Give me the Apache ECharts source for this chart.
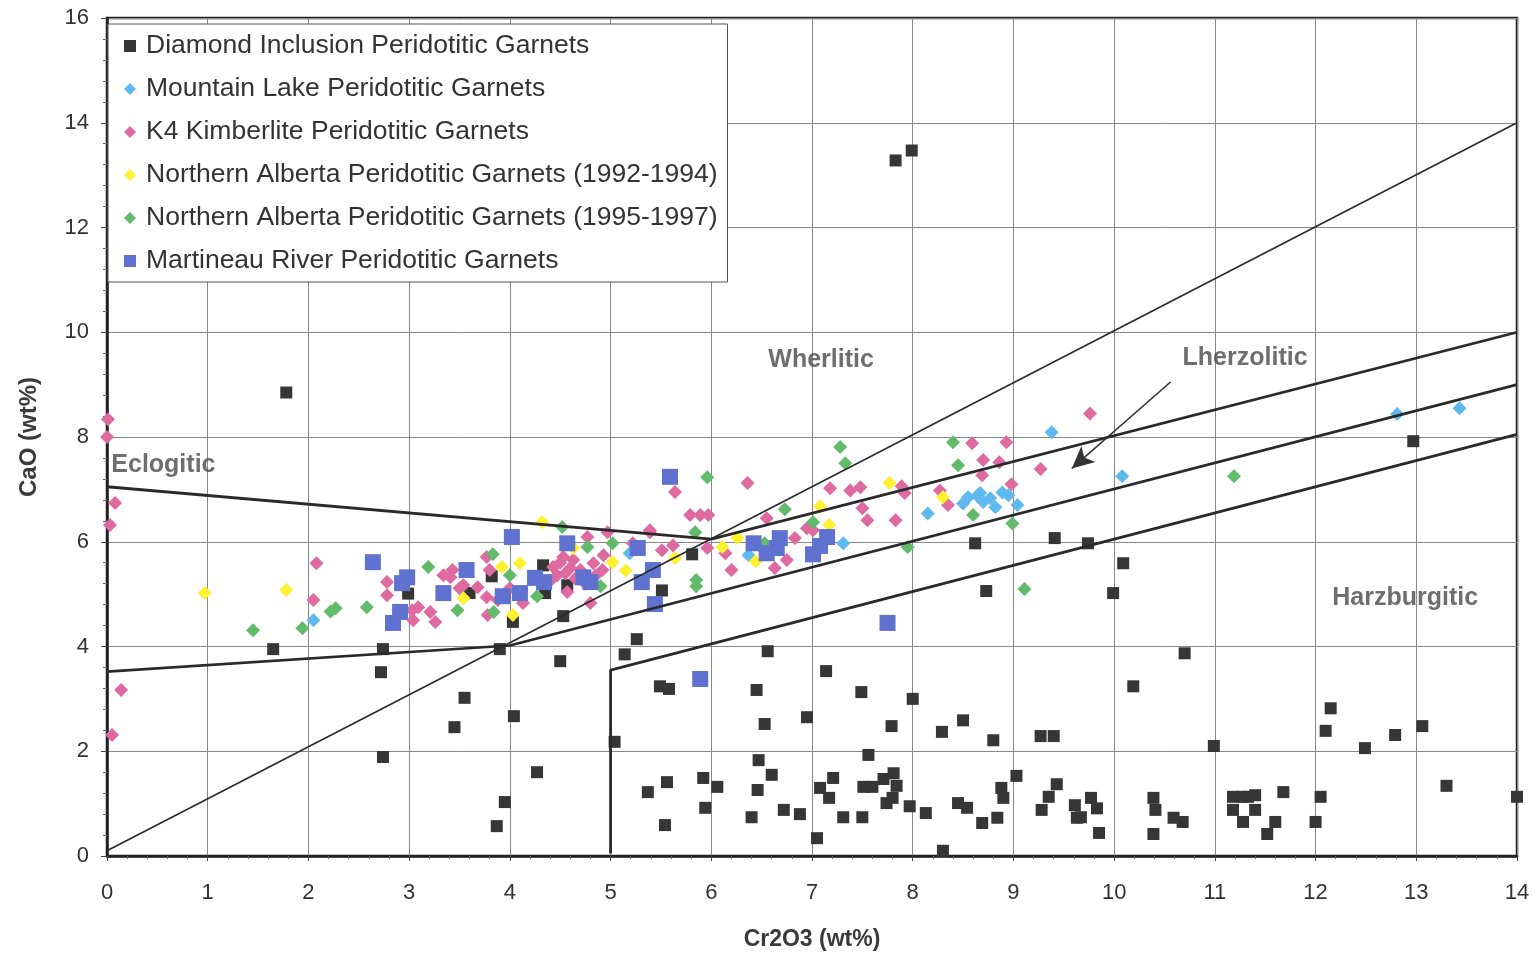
<!DOCTYPE html>
<html>
<head>
<meta charset="utf-8">
<script src="https://cdn.jsdelivr.net/npm/echarts@6/dist/echarts.min.js"></script>
<style>
html,body{margin:0;padding:0;background:#fff;}
#chart{width:1536px;height:958px;}
</style>
</head>
<body>
<div id="chart"></div>
<script>
// ---------- data ----------
const seriesNames = [
  'Diamond Inclusion Peridotitic Garnets',
  'Mountain Lake Peridotitic Garnets',
  'K4 Kimberlite Peridotitic Garnets',
  'Northern Alberta Peridotitic Garnets (1992-1994)',
  'Northern Alberta Peridotitic Garnets (1995-1997)',
  'Martineau River Peridotitic Garnets'
];

const diamondInclusion = [
  [7.83,13.28],[7.99,13.47],[1.78,8.85],[12.97,7.92],[8.62,5.97],[9.41,6.07],[9.74,5.97],[8.73,5.06],[9.99,5.02],[10.09,5.59],
  [10.70,3.87],[10.19,3.24],[5.81,5.76],[5.51,5.07],[5.26,4.14],[5.14,3.85],[4.53,4.58],[4.50,3.72],[3.90,3.95],[2.99,5.01],
  [1.65,3.95],[2.74,3.95],[2.72,3.51],[3.55,3.02],[3.45,2.46],[2.74,1.89],[4.04,2.67],[3.95,1.03],[3.87,0.57],[4.27,1.60],
  [5.04,2.18],[4.33,5.55],[4.57,5.17],[4.35,5.02],[3.60,5.02],[3.82,5.34],[4.03,4.47],
  [5.49,3.24],[5.58,3.19],[6.56,3.91],[7.14,3.53],[6.45,3.17],[7.49,3.13],[8.00,3.00],[6.53,2.52],[6.95,2.65],[7.79,2.48],
  [8.29,2.37],[8.50,2.59],[8.80,2.21],[9.27,2.29],[9.40,2.29],[7.56,1.93],[6.47,1.83],[6.60,1.55],[5.56,1.41],[5.37,1.22],
  [5.92,1.49],[6.06,1.32],[5.94,0.92],[5.54,0.59],[6.46,1.26],[6.40,0.74],[6.72,0.88],[6.88,0.80],[7.08,1.30],[7.21,1.49],
  [7.17,1.11],[7.05,0.34],[7.31,0.74],[7.50,0.74],[7.51,1.32],[7.60,1.32],[7.71,1.47],[7.81,1.58],[7.84,1.34],[7.80,1.11],
  [7.74,1.01],[7.97,0.95],[8.13,0.82],[8.30,0.10],[8.45,1.01],[8.54,0.92],[8.69,0.63],[8.84,0.73],[8.88,1.30],[8.90,1.11],
  [9.03,1.53],[9.28,0.88],[9.35,1.13],[9.43,1.37],[9.61,0.97],[9.63,0.73],
  [10.99,2.10],[12.15,2.82],[12.10,2.39],[12.49,2.06],[12.79,2.31],[13.06,2.48],[13.30,1.34],[14.00,1.13],[12.05,1.13],[12.00,0.65],
  [11.68,1.22],[11.60,0.65],[11.52,0.42],[11.28,0.65],[11.18,1.13],[11.18,0.88],[11.27,1.13],[11.33,1.13],[11.40,1.16],[11.40,0.88],
  [9.67,0.74],[9.77,1.11],[9.83,0.91],[9.85,0.44],[10.39,1.11],[10.41,0.88],[10.39,0.42],[10.59,0.73],[10.68,0.65]
];

const mountainLake = [
  [13.43,8.55],[12.81,8.44],[9.38,8.09],[10.08,7.25],[7.31,5.97],[6.37,5.74],[8.15,6.54],[8.50,6.73],[8.55,6.85],[8.64,6.88],
  [8.67,6.93],[8.70,6.76],[8.77,6.83],[8.82,6.66],[8.89,6.94],[8.95,6.89],[9.04,6.70],[2.05,4.50],[5.19,5.78]
];

const k4Kimberlite = [
  [0.01,8.34],[0.00,8.00],[0.08,6.74],[0.03,6.32],[0.14,3.17],[0.05,2.31],
  [2.08,5.59],[2.05,4.89],[2.78,5.23],[2.78,4.98],[3.03,4.69],[3.09,4.75],[3.21,4.66],[3.26,4.47],[3.04,4.50],[3.34,5.36],
  [3.43,5.46],[3.41,5.32],[3.54,5.17],[3.50,5.11],[3.68,5.13],[3.77,4.94],[3.80,5.46],[3.78,4.60],[4.00,5.11],[3.77,5.71],
  [3.88,4.89],[4.13,4.83],[4.43,5.52],[4.53,5.71],[4.63,5.65],[4.70,5.46],[4.83,5.59],[4.92,5.46],[4.93,5.74],[4.80,4.83],
  [4.97,6.18],[5.22,5.97],[5.39,6.22],[5.51,5.84],[4.77,6.09],[4.57,5.04],[4.47,5.36],[4.40,5.25],[4.55,5.40],[4.65,5.30],
  [4.75,5.20],[4.85,5.35],[4.50,5.60],[4.60,5.50],
  [5.64,6.95],[5.79,6.51],[5.89,6.51],[5.97,6.51],[6.36,7.12],[5.96,5.88],[6.14,5.78],[6.20,5.46],[6.55,6.45],[6.75,5.65],
  [6.63,5.50],[7.01,6.22],[7.18,7.02],[7.38,6.98],[7.48,7.04],[7.50,6.64],[7.55,6.41],[6.95,6.26],[6.83,6.07],[5.62,5.93],
  [5.39,6.18],
  [9.76,8.45],[8.59,7.88],[8.93,7.90],[8.70,7.56],[8.86,7.52],[8.69,7.27],[9.27,7.39],[8.98,7.10],[7.89,7.06],[7.92,6.93],
  [8.27,6.98],[8.35,6.70],[7.83,6.41]
];

const nAlberta9294 = [
  [0.97,5.02],[1.78,5.08],[3.54,4.92],[3.92,5.52],[4.03,4.60],[4.10,5.59],[4.32,6.37],[4.63,5.88],[5.02,5.61],[5.15,5.45],
  [5.64,5.69],[6.11,5.90],[6.26,6.07],[6.44,5.63],[7.08,6.68],[7.17,6.32],[7.77,7.12],[8.30,6.85]
];

const nAlberta9597 = [
  [1.45,4.31],[1.94,4.35],[2.22,4.67],[2.27,4.73],[2.58,4.75],[3.19,5.52],[3.48,4.69],[3.83,5.76],[3.84,4.66],[4.00,5.36],
  [4.27,4.96],[4.52,6.28],[4.77,5.90],[5.02,5.97],[4.90,5.15],[5.84,6.18],[5.85,5.27],[5.85,5.15],[5.96,7.23],[6.53,5.97],
  [6.73,6.62],[7.01,6.37],[7.28,7.81],[7.33,7.50],[7.95,5.90],[8.40,7.90],[8.45,7.46],[8.60,6.51],[8.99,6.35],[9.11,5.10],
  [11.19,7.25]
];

const martineauRiver = [
  [2.64,5.61],[2.98,5.32],[2.93,5.21],[2.91,4.66],[2.84,4.45],[3.34,5.02],[3.57,5.46],[3.93,4.96],[4.02,6.09],[4.10,5.02],
  [4.25,5.31],[4.34,5.23],[4.57,5.97],[4.73,5.32],[4.80,5.23],[5.27,5.88],[5.42,5.46],[5.31,5.23],[5.44,4.81],[5.59,7.24],
  [5.89,3.38],[6.42,5.97],[6.55,5.78],[6.68,6.07],[6.65,5.88],[7.01,5.76],[7.08,5.92],[7.15,6.09],[7.75,4.45]
];

// field boundaries
const lineOneToOne = [[0,0.1],[14,14]];
const lineEclogitic = [[0,7.05],[6,6.05]];
const lineLowerLherz = [[0,3.52],[4,4.02],[14,9.0]];
const lineUpperLherz = [[6,6.05],[14,10.0]];
const lineHarzburgitic = [[5,0.05],[5,3.55],[14,8.05]];
const arrowLherz = [[10.56,9.05],[9.58,7.40]];

const regionLabels = [
  [0.56,7.46,'Eclogitic'],
  [7.09,9.47,'Wherlitic'],
  [11.30,9.50,'Lherzolitic'],
  [12.89,4.92,'Harzburgitic']
];

const xTicks = [0,1,2,3,4,5,6,7,8,9,10,11,12,13,14];
const yTicks = [0,2,4,6,8,10,12,14,16];

// ---------- chart ----------
const FONT = '"Liberation Sans", Arial, sans-serif';
const chart = echarts.init(document.getElementById('chart'), null, {renderer:'canvas'});

function scatter(name, data, symbol, size, color, z){
  return {
    name, type:'scatter', data, symbol, symbolSize:size, z,
    itemStyle:{color, opacity:1}, animation:false
  };
}
function boundary(data, width){
  return {
    type:'line', data, symbol:'none', z:10, silent:true,
    lineStyle:{color:'#2a2a2a', width}, animation:false
  };
}

const option = {
  backgroundColor:'#ffffff',
  animation:false,
  grid:{left:107, right:19, top:18, bottom:102, show:true, borderColor:'#222', borderWidth:2.5, backgroundColor:'transparent'},
  legend:{
    data:seriesNames,
    orient:'vertical', left:108, top:24,
    padding:[7,10,6,16],
    itemGap:13, itemWidth:12, itemHeight:12,
    backgroundColor:'#fff', borderColor:'#555', borderWidth:1,
    textStyle:{fontFamily:FONT, fontSize:26.5, color:'#333', lineHeight:30, padding:[0,0,0,5]},
    z:20
  },
  xAxis:{
    type:'value', min:0, max:14, interval:1,
    name:'Cr2O3 (wt%)', nameLocation:'middle', nameGap:72,
    nameTextStyle:{fontFamily:FONT, fontSize:23, fontWeight:'bold', color:'#3a3a3a'},
    axisLine:{show:true, onZero:false, lineStyle:{color:'#222', width:2.5}},
    axisTick:{show:true, length:5, lineStyle:{color:'#444'}},
    minorTick:{show:true, splitNumber:5, length:3, lineStyle:{color:'#666'}},
    axisLabel:{fontFamily:FONT, fontSize:22, color:'#333', margin:26,
      formatter:v => xTicks.includes(v) ? String(v) : ''},
    splitLine:{show:true, lineStyle:{color:'#888', width:1}}
  },
  yAxis:{
    type:'value', min:0, max:16, interval:2,
    name:'CaO (wt%)', nameLocation:'middle', nameGap:66,
    nameTextStyle:{fontFamily:FONT, fontSize:24, fontWeight:'bold', color:'#3a3a3a'},
    axisLine:{show:true, onZero:false, lineStyle:{color:'#222', width:2.5}},
    axisTick:{show:true, length:6, lineStyle:{color:'#444'}},
    minorTick:{show:true, splitNumber:5, length:4, lineStyle:{color:'#666'}},
    axisLabel:{fontFamily:FONT, fontSize:22, color:'#333', margin:18,
      formatter:v => yTicks.includes(v) ? String(v) : ''},
    splitLine:{show:true, lineStyle:{color:'#888', width:1}}
  },
  series:[
    scatter(seriesNames[0], diamondInclusion, 'rect', 12, '#363636', 2),
    scatter(seriesNames[1], mountainLake, 'diamond', 14, '#5fb9ef', 3),
    scatter(seriesNames[2], k4Kimberlite, 'diamond', 14, '#df6a9f', 4),
    scatter(seriesNames[3], nAlberta9294, 'diamond', 14, '#fff030', 5),
    scatter(seriesNames[4], nAlberta9597, 'diamond', 14, '#62bb6a', 6),
    scatter(seriesNames[5], martineauRiver, 'rect', 16, '#6072d0', 7),
    boundary(lineOneToOne, 1.6),
    boundary(lineEclogitic, 2.8),
    boundary(lineLowerLherz, 2.6),
    boundary(lineUpperLherz, 2.8),
    boundary(lineHarzburgitic, 2.8),
    {
      type:'line', data:[], silent:true, z:11,
      markLine:{
        silent:true, symbol:['none','arrow'], symbolSize:[16,22],
        label:{show:false},
        lineStyle:{color:'#333', width:1.6, type:'solid'},
        data:[[{coord:arrowLherz[0]},{coord:arrowLherz[1]}]]
      }
    },
    {
      type:'scatter', silent:true, z:12, symbolSize:0,
      data:regionLabels,
      label:{show:true, position:'inside', formatter:p => p.data[2],
        fontFamily:FONT, fontSize:25, fontWeight:'bold', color:'#4a4a4a'}
    }
  ]
};
chart.setOption(option);
</script>
</body>
</html>
